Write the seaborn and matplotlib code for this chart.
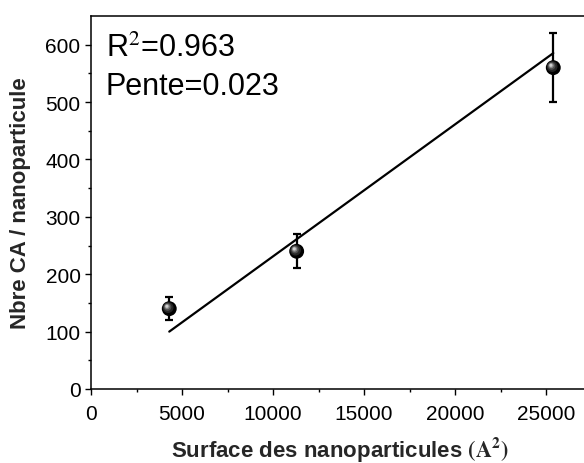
import numpy as np
import pandas as pd
import matplotlib
matplotlib.use("Agg")
import matplotlib.pyplot as plt
import matplotlib.transforms as mtransforms
import seaborn as sns

# Measured data: nanoparticle surface vs number of CA per nanoparticle
surface = [4300, 11300, 25400]
nbre_ca = [140, 240, 560]
erreur = [20, 30, 60]

# Linear fit parameters
pente = 0.023
ordonnee = 1.1
r2 = 0.963

x_ticks = [0, 5000, 10000, 15000, 20000, 25000]
y_ticks = [0, 100, 200, 300, 400, 500, 600]

sns.set_theme(style="ticks")
plt.rcParams["font.family"] = ["Liberation Sans", "DejaVu Sans"]
plt.rcParams["mathtext.fontset"] = "stix"

W, H = 584, 464
fig = plt.figure(figsize=(W / 100, H / 100), dpi=100)
x0, x1 = 91, 600.6
y_top, y_bot = 17, 390
ax = fig.add_axes([x0 / W, (H - y_bot) / H, (x1 - x0) / W, (y_bot - y_top) / H])

df = pd.DataFrame({"surface": surface, "nbre": nbre_ca, "err": erreur})

# fitted line over the data range
fit_x = [surface[0], surface[-1]]
fit = pd.DataFrame({"x": fit_x, "y": [pente * v + ordonnee for v in fit_x]})
sns.lineplot(data=fit, x="x", y="y", ax=ax, color="black", lw=1.6, zorder=2)

# error bars
ax.errorbar(df["surface"], df["nbre"], yerr=df["err"], fmt="none",
            ecolor="black", elinewidth=1.6, capsize=2.6, capthick=1.6, zorder=3)

# shaded ball markers
sns.scatterplot(data=df, x="surface", y="nbre", ax=ax, s=115, color="black",
                edgecolor="none", zorder=4, legend=False)
layers = [(60, "#262626", -0.8, 0.8), (30, "#505050", -1.2, 1.2),
          (14, "#8a8a8a", -1.5, 1.5), (5, "#cfcfcf", -1.7, 1.7)]
for s, c, dx, dy in layers:
    tr = mtransforms.offset_copy(ax.transData, fig=fig, x=dx, y=dy, units="points")
    ax.scatter(df["surface"], df["nbre"], s=s, color=c, edgecolor="none",
               zorder=5, transform=tr)

ax.set_xlim(0, 28000)
ax.set_ylim(0, 650)
ax.set_xticks(x_ticks)
ax.set_yticks(y_ticks)
ax.set_xticks(np.arange(2500, 28000, 5000), minor=True)
ax.set_yticks(np.arange(50, 650, 100), minor=True)
ax.tick_params(axis="both", which="major", direction="out", length=4.5, width=1,
               labelsize=15, color="black", labelcolor="black")
ax.tick_params(axis="both", which="minor", direction="out", length=2.5, width=1,
               color="black")
ax.tick_params(axis="x", which="major", pad=6)
ax.tick_params(axis="y", which="major", pad=3)
ax.tick_params(top=False, right=False, which="both")

for side in ["left", "bottom", "top", "right"]:
    ax.spines[side].set_color("black")
    ax.spines[side].set_linewidth(1.1)

ax.set_xlabel(r"Surface des nanoparticules $\mathbf{(A^{2})}$", fontsize=16,
              fontweight="bold", va="baseline")
ax.set_ylabel("Nbre CA / nanoparticule", fontsize=16, fontweight="bold")
ax.xaxis.set_label_coords((340 - x0) / (x1 - x0), (y_bot - 457) / (y_bot - y_top))
ax.yaxis.set_label_coords((31 - x0) / (x1 - x0), 0.5)

ax.text(106 / W, (H - 57) / H, f"R$^2$={r2}", transform=fig.transFigure,
        fontsize=22, ha="left", va="baseline", color="black")
ax.text(106 / W, (H - 95) / H, f"Pente={pente}", transform=fig.transFigure,
        fontsize=22, ha="left", va="baseline", color="black")

fig.savefig("out.png", dpi=100)
